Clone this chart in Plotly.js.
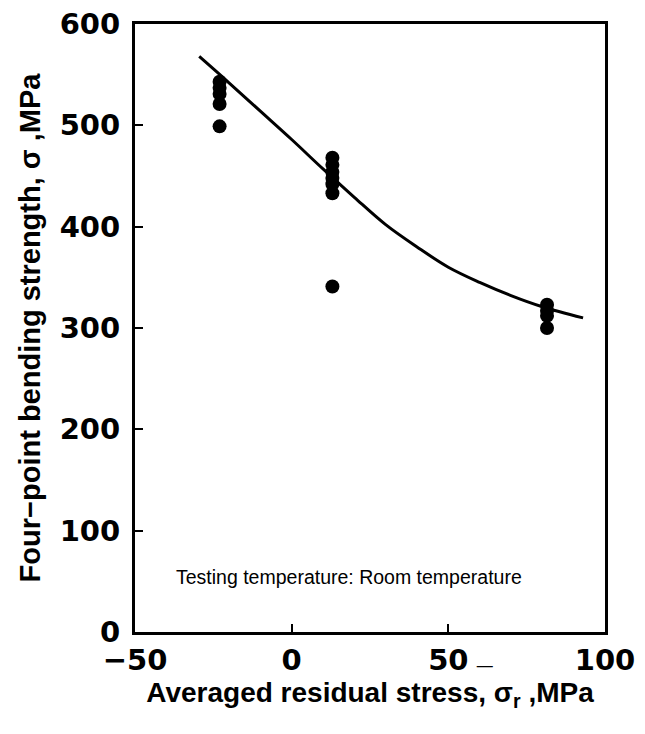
<!DOCTYPE html>
<html>
<head>
<meta charset="utf-8">
<script src="https://cdn.plot.ly/plotly-3.0.1.min.js"></script>
<style>html,body{margin:0;padding:0;background:#fff;}#chart{width:645px;height:734px;}</style>
</head>
<body>
<div id="chart"></div>
<script>
// Measured points
const stressX = [-23, -23, -23, -23, -23,
                 13, 13, 13, 13, 13, 13, 13,
                 81.5, 81.5, 81.5, 81.5];
const strengthY = [543, 537, 531, 521, 499,
                   468, 461, 454, 448, 442, 433, 341,
                   323, 317, 312, 300];
// Fitted curve
const curveX = [-29.5, -20, -10, 0, 10, 20, 30, 40, 50, 60, 70, 80, 93];
const curveY = [568, 542, 514, 486, 457, 429, 402, 380, 360, 345, 332, 321, 310];

const xTicks = [-50, 0, 50, 100];
const yTicks = [0, 100, 200, 300, 400, 500, 600];

const fontFam = 'Liberation Sans, Arial, sans-serif';
const tickFam = 'DejaVu Sans, Liberation Sans, sans-serif';

const traces = [
  {x: curveX, y: curveY, mode: 'lines', type: 'scatter', line: {color: '#000', width: 3, shape: 'spline'}, hoverinfo: 'skip', showlegend: false},
  {x: stressX, y: strengthY, mode: 'markers', type: 'scatter', marker: {color: '#000', size: 14}, showlegend: false}
];

const layout = {
  width: 645, height: 734,
  margin: {l: 135, r: 40, t: 24, b: 102},
  paper_bgcolor: '#fff', plot_bgcolor: '#fff',
  font: {family: fontFam, color: '#000'},
  showlegend: false,
  xaxis: {
    range: [-50, 100], tickvals: xTicks, ticktext: xTicks.map(v => v < 0 ? '\u2212' + Math.abs(v) : String(v)),
    showgrid: false, zeroline: false,
    showline: true, linecolor: '#000', linewidth: 3, mirror: true,
    ticks: 'inside', ticklen: 8, tickwidth: 2, tickcolor: '#000',
    ticklabelstandoff: 0,
    tickfont: {size: 29, family: tickFam, weight: 'bold'},
    title: {text: 'Averaged residual stress, σ<sub>r</sub> ,MPa', font: {size: 28, family: fontFam, weight: 'bold'}, standoff: 5}
  },
  yaxis: {
    range: [0, 600], tickvals: yTicks,
    showgrid: false, zeroline: false,
    showline: true, linecolor: '#000', linewidth: 3, mirror: true,
    ticks: 'inside', ticklen: 8, tickwidth: 2, tickcolor: '#000',
    ticklabelstandoff: 6,
    tickfont: {size: 29, family: tickFam, weight: 'bold'},
    title: {text: 'Four\u2212point bending strength, σ ,MPa', font: {size: 29, family: fontFam, weight: 'bold'}, standoff: 11}
  },
  annotations: [
    {xref: 'paper', yref: 'paper', x: 0.455, y: 0.069, text: 'Testing temperature: Room temperature', showarrow: false, font: {size: 19.5, family: fontFam}},
    {xref: 'paper', yref: 'paper', x: 0.766, y: -0.066, text: '_', showarrow: false, font: {size: 28, family: fontFam, weight: 'bold'}}
  ]
};

Plotly.newPlot('chart', traces, layout, {displayModeBar: false, staticPlot: true});
</script>
</body>
</html>
